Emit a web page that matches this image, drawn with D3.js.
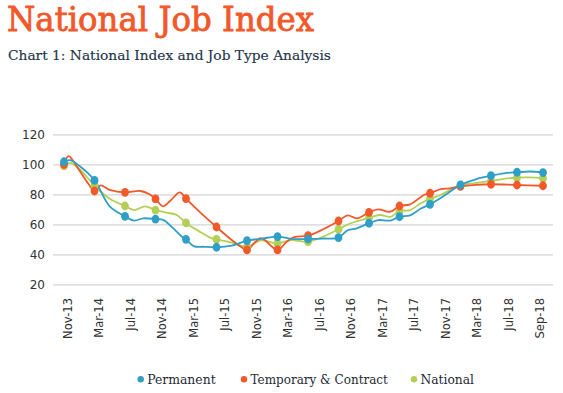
<!DOCTYPE html>
<html>
<head>
<meta charset="utf-8">
<script src="https://cdn.jsdelivr.net/npm/d3@7"></script>
<style>
  html, body { margin: 0; padding: 0; background: #ffffff; }
  svg { display: block; }
</style>
</head>
<body>
<svg id="chart" width="563" height="393"></svg>
<script>
// ---------- data ----------
const title = "National Job Index";
const subtitle = "Chart 1: National Index and Job Type Analysis";
const xLabels = ["Nov-13","Mar-14","Jul-14","Nov-14","Mar-15","Jul-15","Nov-15","Mar-16",
                 "Jul-16","Nov-16","Mar-17","Jul-17","Nov-17","Mar-18","Jul-18","Sep-18"];
const yTicks = [20, 40, 60, 80, 100, 120];
const seriesNames = ["Permanent", "Temporary & Contract", "National"];
const seriesColors = ["#2f9fc7", "#f1582a", "#b3cf55"];

// marker values (one per observation period)
const permanentMarkers = [101.7, 89.3, 65.3, 63.5, 50, 44.7, 49.1, 51.8, 50.2, 51.1, 60.7, 65.1, 73.3, 86.3, 92.4, 94.7, 94.5];
const temporaryMarkers = [100, 82.2, 81.3, 76.9, 77.1, 58.2, 42.9, 42.9, 52.4, 62.2, 68, 72.2, 80.7, 85.3, 86.7, 86.2, 85.7];
const nationalMarkers  = [98.9, 85.7, 72.2, 69.5, 60.9, 50, 45.1, 47.3, 48.4, 56.7, 64.3, 68.9, 76.9, 86, 88.9, 91.1, 90.7];

// full line readings: [period index, value]
const permanentLine = [[0,101.7],[0.2,102.8],[0.5,99],[1,89.3],[1.5,72],[2,65.3],[2.3,62.5],[2.6,64],[3,63.5],
  [3.25,63],[3.6,57],[3.85,52],[4,50],[4.25,45.5],[4.6,45],[5,44.7],[5.5,45.8],[6,49.1],[6.5,50.5],[7,51.8],
  [7.45,50.3],[8,50.2],[8.5,50.5],[9,51.1],[9.3,56],[9.6,57.3],[10,60.7],[10.3,62.8],[10.7,62.5],[11,65.1],
  [11.35,66],[11.7,70.5],[12,73.3],[12.35,77.5],[12.65,81.7],[13,86.3],[13.5,90],[14,92.4],[14.5,94],[15,94.7],
  [15.5,95.2],[16,94.5]];
const temporaryLine = [[0,100],[0.15,105.5],[0.5,96],[0.8,87],[1,82.2],[1.2,86],[1.5,83],[2,81.3],[2.5,82.2],
  [2.8,80],[3,76.9],[3.25,72],[3.5,76],[3.8,81.3],[4,77.1],[4.5,67.3],[5,58.2],[5.5,49.5],[5.8,45],[6,42.9],
  [6.45,50.7],[7,42.9],[7.3,48.4],[7.55,51.5],[8,52.4],[8.5,56.7],[9,62.2],[9.3,66],[9.6,64],[10,68],[10.3,70],
  [10.7,68.4],[11,72.2],[11.35,73.3],[11.8,79.5],[12,80.7],[12.35,83.5],[12.65,84],[13,85.3],[13.5,86.3],
  [14,86.7],[15,86.2],[16,85.7]];
const nationalLine = [[0,98.9],[0.2,101],[0.5,97],[1,85.7],[1.5,77],[2,72.2],[2.3,69.5],[2.65,72],[3,69.5],
  [3.35,67.8],[3.7,66.2],[4,60.9],[4.5,54.5],[4.75,51.5],[5,50],[5.5,47.8],[6,45.1],[6.45,49.3],[7,47.3],
  [7.45,49.5],[8,48.4],[8.5,51.8],[9,56.7],[9.4,60.7],[10,64.3],[10.35,66.2],[10.7,65],[11,68.9],[11.35,69.5],
  [11.7,74],[12,76.9],[12.35,79.5],[12.65,82.9],[13,86],[13.5,87.5],[14,88.9],[14.5,90.3],[15,91.1],
  [15.5,91.3],[16,90.7]];

// ---------- drawing ----------
const svg = d3.select("#chart");
const serif = "'DejaVu Serif', 'Liberation Serif', serif";
const sans = "'DejaVu Sans', 'Liberation Sans', sans-serif";

function fitWidth(sel, target) {
  const w = sel.node().getComputedTextLength();
  const fs = parseFloat(sel.attr("font-size"));
  sel.attr("font-size", (fs * target / w).toFixed(2));
}

svg.append("text")
  .attr("x", 7).attr("y", 31)
  .attr("font-family", serif).attr("font-size", 33)
  .attr("fill", "#f1582a").attr("stroke", "#f1582a").attr("stroke-width", 0.8)
  .attr("textLength", 307).attr("lengthAdjust", "spacingAndGlyphs")
  .text(title);

const sub = svg.append("text")
  .attr("x", 8).attr("y", 60)
  .attr("font-family", serif).attr("font-size", 14.5)
  .attr("fill", "#23344a").attr("stroke", "#23344a").attr("stroke-width", 0.15)
  .text(subtitle);
fitWidth(sub, 323);

const y = d3.scaleLinear().domain([20, 120]).range([284.3, 134.3]);
const xData = d3.scaleLinear().domain([0, 14, 16]).range([64, 491, 543]);
const xLab = d3.scalePoint().domain(xLabels).range([68, 540]);

// gridlines + y labels via axis
const yAxis = d3.axisLeft(y).tickValues(yTicks).tickSize(-500).tickPadding(8);
const gy = svg.append("g").attr("transform", "translate(53,0)").call(yAxis);
gy.select(".domain").remove();
gy.selectAll(".tick line").attr("stroke", "#d4d4d4").attr("stroke-width", 1.3);
gy.selectAll(".tick text").attr("font-family", sans).attr("font-size", 12).attr("fill", "#333333");

// x labels
svg.append("g").selectAll("text").data(xLabels).join("text")
  .attr("transform", d => `translate(${xLab(d)},298) rotate(-90)`)
  .attr("text-anchor", "end").attr("dy", "0.35em")
  .attr("font-family", sans).attr("font-size", 11.5).attr("fill", "#333333")
  .text(d => d);

const lines = [permanentLine, temporaryLine, nationalLine];
const markers = [permanentMarkers, temporaryMarkers, nationalMarkers];
const lineGen = d3.line().x(d => xData(d[0])).y(d => y(d[1])).curve(d3.curveCatmullRom.alpha(0.5));

const drawOrder = [2, 1, 0];
drawOrder.forEach(i => {
  svg.append("path").datum(lines[i])
    .attr("d", lineGen).attr("fill", "none")
    .attr("stroke", seriesColors[i]).attr("stroke-width", 1.8);
});
drawOrder.forEach(i => {
  svg.append("g").selectAll("ellipse").data(markers[i]).join("ellipse")
    .attr("cx", (d, k) => xData(k)).attr("cy", d => y(d))
    .attr("rx", 3.9).attr("ry", 4.4)
    .attr("fill", seriesColors[i]);
});

// legend
const legendX = [140.7, 244, 414];
const legendW = [68.5, 137.5, 53.5];
const lg = svg.append("g");
seriesNames.forEach((n, i) => {
  lg.append("circle").attr("cx", legendX[i]).attr("cy", 379.3).attr("r", 3.2).attr("fill", seriesColors[i]);
  const t = lg.append("text").attr("x", legendX[i] + 6.5).attr("y", 384)
    .attr("font-family", serif).attr("font-size", 13).attr("fill", "#1f2a36").text(n);
  fitWidth(t, legendW[i]);
});
</script>
</body>
</html>
